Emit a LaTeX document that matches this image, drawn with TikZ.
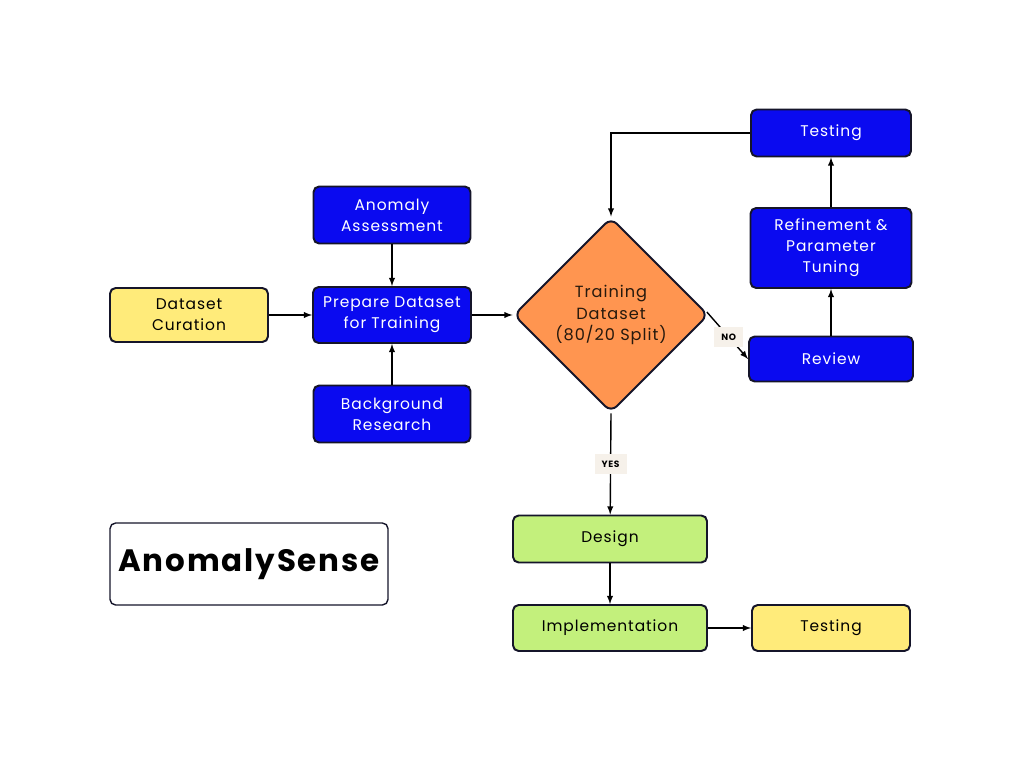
\documentclass[tikz,border=0pt]{standalone}
\usepackage{fontspec}
\setmainfont{Poppins}[LetterSpace=6]
\usepackage{xcolor}
\usetikzlibrary{positioning,calc,shapes.geometric}

\definecolor{boxblue}{HTML}{0A0AF0}
\definecolor{boxyellow}{HTML}{FFEB7A}
\definecolor{boxgreen}{HTML}{C3F07C}
\definecolor{boxorange}{HTML}{FF9550}
\definecolor{tagbg}{HTML}{F6F1EA}
\definecolor{edge}{HTML}{15152A}

\def\px{0.025cm} % one pixel of the reference

\tikzset{
  box/.style={draw=edge, line width=1.4pt, rounded corners=4pt, align=center,
    font=\fontsize{11}{15}\selectfont, inner sep=0pt},
  bluebox/.style={box, fill=boxblue, text=white},
  yellowbox/.style={box, fill=boxyellow, text=black},
  greenbox/.style={box, fill=boxgreen, text=black},
  decision/.style={diamond, draw=edge, line width=1.4pt, rounded corners=6pt,
    fill=boxorange, align=center, inner sep=0pt, aspect=1,
    font=\fontsize{11.5}{15.5}\selectfont, text=black!80!brown},
  tag/.style={fill=tagbg, font=\fontsize{6.5}{8}\selectfont\bfseries,
    inner xsep=5pt, inner ysep=5pt},
  link/.style={-latex, line width=1pt},
}

\begin{document}
\begin{tikzpicture}[x=\px, y=-\px]
    \useasboundingbox (0,0) rectangle (1024,768);

    % left column
    \node[yellowbox, minimum width=158*\px, minimum height=54*\px]
         (curation) at (189,315) {Dataset\\Curation};
    \node[bluebox, minimum width=158*\px, minimum height=56*\px]
         (prepare) at (392,315) {Prepare Dataset\\for Training};
    \node[bluebox, minimum width=157*\px, minimum height=57*\px]
         (assess) at (392,215) {Anomaly\\Assessment};
    \node[bluebox, minimum width=157*\px, minimum height=57*\px]
         (research) at (392,414) {Background\\Research};

    % decision
    \node[decision, minimum width=195*\px, minimum height=195*\px]
         (split) at (611,315) {Training\\Dataset\\(80/20 Split)};

    % right column
    \node[bluebox, minimum width=160*\px, minimum height=47*\px]
         (testtop) at (831,133) {Testing};
    \node[bluebox, minimum width=161*\px, minimum height=80*\px]
         (refine) at (831,248) {Refinement \&\\Parameter\\Tuning};
    \node[bluebox, minimum width=164*\px, minimum height=45*\px]
         (review) at (831,359) {Review};

    % bottom
    \node[greenbox, minimum width=194*\px, minimum height=47*\px]
         (design) at (610,539) {Design};
    \node[greenbox, minimum width=194*\px, minimum height=46*\px]
         (impl) at (610,628) {Implementation};
    \node[yellowbox, minimum width=158*\px, minimum height=46*\px]
         (testbot) at (831,628) {Testing};

    % title
    \node[draw=edge, line width=1pt, rounded corners=4pt, fill=white,
          minimum width=278*\px, minimum height=82*\px,
          font=\fontsize{22}{26}\selectfont\bfseries]
         (title) at (249,564) {AnomalySense};

    % connectors
    \draw[link] (curation) -- (prepare);
    \draw[link] (assess) -- (prepare);
    \draw[link] (research) -- (prepare);
    \draw[link] (prepare) -- (split);
    \draw[link] (testtop.west) -| (split.north);
    \draw[link, shorten <=-4*\px] (split.east) -- node[tag] {NO} (review.west);
    \draw[link] (review) -- (refine);
    \draw[link] (refine) -- (testtop);
    \draw[link] (split.south) -- node[tag] {YES} (design);
    \draw[link] (design) -- (impl);
    \draw[link] (impl) -- (testbot);

\end{tikzpicture}
\end{document}
